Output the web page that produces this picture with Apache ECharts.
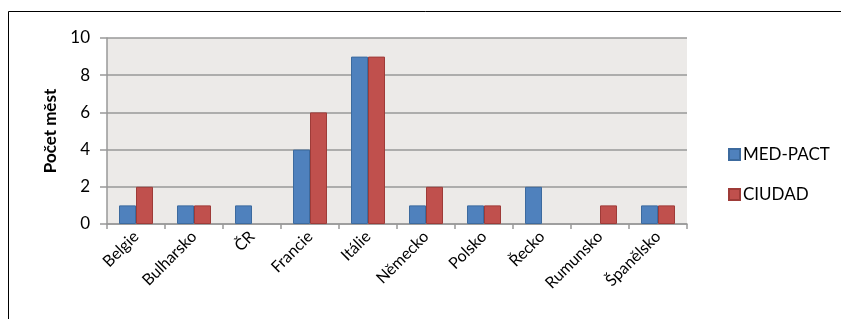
<!DOCTYPE html>
<html>
<head>
<meta charset="utf-8">
<script src="https://cdn.jsdelivr.net/npm/echarts@6/dist/echarts.min.js"></script>
<style>
  html, body { margin: 0; padding: 0; background: #fff; }
  #chart { width: 841px; height: 319px; }
</style>
</head>
<body>
<div id="chart"></div>
<script>
const countries = ['Belgie', 'Bulharsko', 'ČR', 'Francie', 'Itálie', 'Německo', 'Polsko', 'Řecko', 'Rumunsko', 'Španělsko']
const medPact = [1, 1, 1, 4, 9, 1, 1, 2, 0, 1]
const ciudad = [2, 1, 0, 6, 9, 2, 1, 0, 1, 1]
const yTicks = [0, 2, 4, 6, 8, 10]

const font = 'Lato, "Open Sans", sans-serif'
const noZero = arr => arr.map(v => (v === 0 ? '-' : v))

const chart = echarts.init(document.getElementById('chart'))
chart.setOption({
    animation: false,
    textStyle: { fontFamily: font },
    graphic: [{
        type: 'rect',
        shape: { x: 8.5, y: 11.5, width: 900, height: 400 },
        style: { fill: 'none', stroke: '#000', lineWidth: 1 },
        silent: true
    }],
    legend: {
        data: ['MED-PACT', 'CIUDAD'],
        orient: 'vertical',
        left: 723,
        top: 141,
        itemWidth: 11,
        itemHeight: 11,
        itemGap: 23,
        icon: 'rect',
        textStyle: { fontSize: 17, color: '#000', fontFamily: font, padding: [0, 0, 0, -2] }
    },
    grid: {
        left: 107,
        right: 154,
        top: 38,
        bottom: 95,
        show: true,
        backgroundColor: '#ECEAE8',
        borderWidth: 0
    },
    xAxis: {
        type: 'category',
        data: countries,
        axisLine: { lineStyle: { color: '#999', width: 1.5 } },
        axisTick: { show: true, length: 5, lineStyle: { color: '#999', width: 1.5 } },
        axisLabel: { rotate: 45, fontSize: 16, color: '#000', margin: 10, interval: 0, fontFamily: font }
    },
    yAxis: {
        type: 'value',
        min: yTicks[0],
        max: yTicks[yTicks.length - 1],
        interval: 2,
        name: 'Počet měst',
        nameLocation: 'middle',
        nameRotate: 90,
        nameGap: 41,
        nameTextStyle: { fontSize: 17, fontWeight: 'bold', color: '#000', fontFamily: font },
        axisLine: { show: true, lineStyle: { color: '#999', width: 1.5 } },
        axisTick: { show: true, length: 7, lineStyle: { color: '#999', width: 1.5 } },
        axisLabel: { fontSize: 17, color: '#000', margin: 17, fontFamily: font },
        splitLine: { lineStyle: { color: '#999', width: 1.5 } }
    },
    series: [{
        name: 'MED-PACT',
        type: 'bar',
        data: noZero(medPact),
        barWidth: 17,
        barGap: '0%',
        itemStyle: { color: '#4F81BD', borderColor: '#3C6A9E', borderWidth: 1 }
    }, {
        name: 'CIUDAD',
        type: 'bar',
        data: noZero(ciudad),
        barWidth: 17,
        barGap: '0%',
        itemStyle: { color: '#C0504D', borderColor: '#9E3B38', borderWidth: 1 }
    }]
})
</script>
</body>
</html>
